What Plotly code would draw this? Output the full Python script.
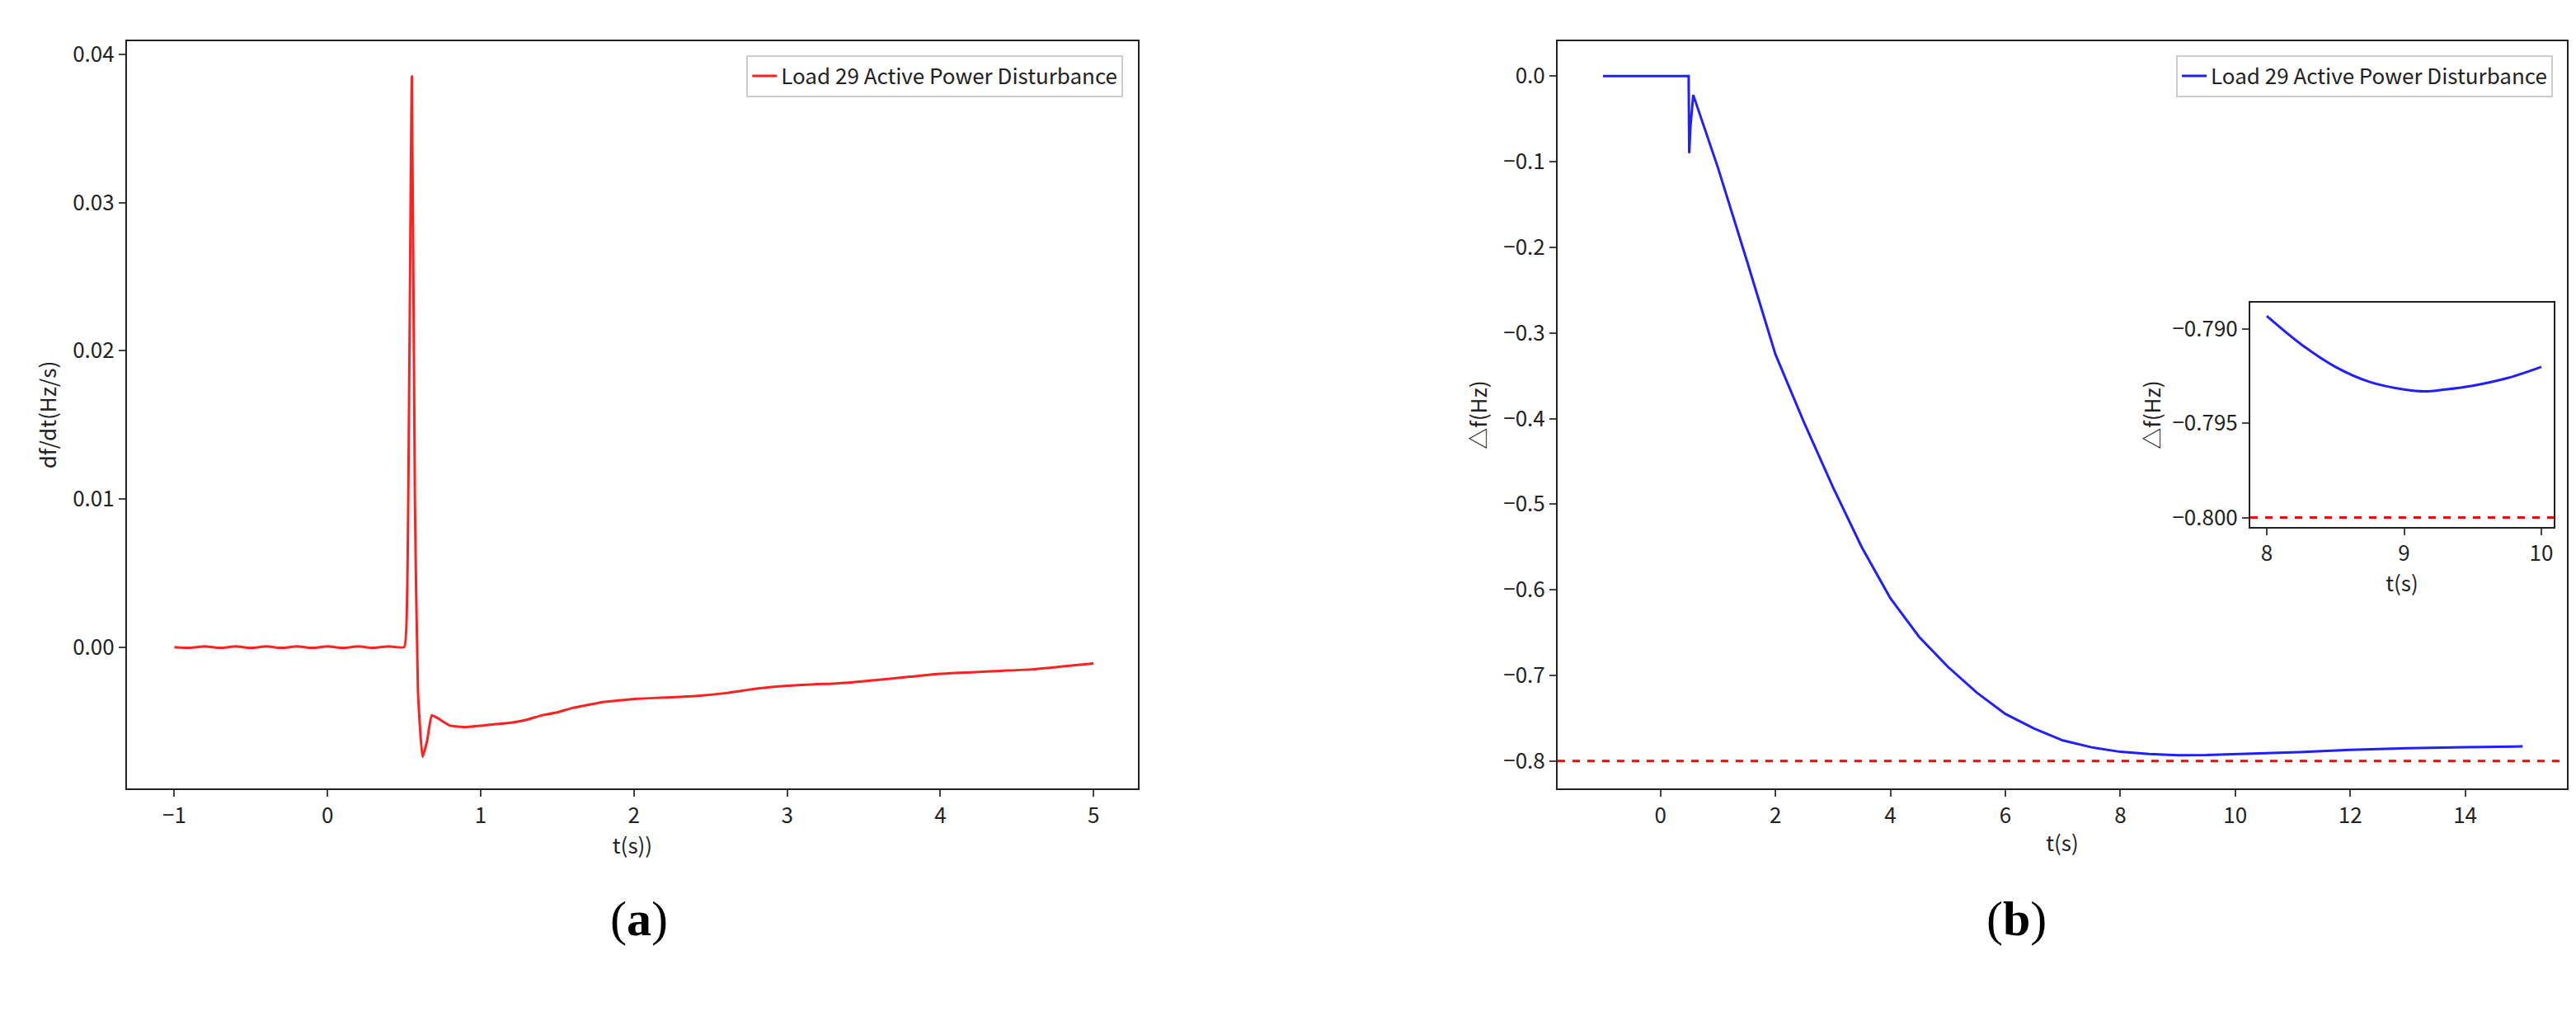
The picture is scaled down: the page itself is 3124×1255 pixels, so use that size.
import plotly.graph_objects as go

# Left panel: df/dt
t_a = [-1.0,-0.9,-0.8,-0.7,-0.6,-0.5,-0.4,-0.3,-0.2,-0.1,0.0,0.1,0.2,0.3,0.4,0.5,0.52,0.55,0.57,0.59,0.62,0.65,0.68,0.72,0.8,0.9,1.0,1.1,1.2,1.3,1.4,1.5,1.6,1.7,1.8,1.9,2.0,2.2,2.4,2.6,2.8,3.0,3.2,3.4,3.6,3.8,4.0,4.2,4.4,4.6,4.8,5.0]
v_a = [0.0,-0.00005,0.00005,-0.00005,0.00005,-0.00005,0.00005,-0.00005,0.00005,-0.00005,0.00005,-0.00005,0.00005,-0.00005,0.00005,0.0,0.004,0.0385,0.010,-0.003,-0.0074,-0.0063,-0.0046,-0.0048,-0.0053,-0.0054,-0.0053,-0.0052,-0.0051,-0.0049,-0.0046,-0.0044,-0.0041,-0.0039,-0.0037,-0.0036,-0.0035,-0.0034,-0.0033,-0.0031,-0.0028,-0.0026,-0.0025,-0.0024,-0.0022,-0.0020,-0.0018,-0.0017,-0.0016,-0.0015,-0.0013,-0.0011]

# Right panel: delta f
t_b = [-1.0,0.0,0.49,0.50,0.52,0.57,1.0,1.5,2.0,2.5,3.0,3.5,4.0,4.5,5.0,5.5,6.0,6.5,7.0,7.5,8.0,8.5,9.0,9.5,10.0,11.0,12.0,13.0,14.0,15.0]
v_b = [0.0,0.0,0.0,-0.09,-0.06,-0.022,-0.107,-0.215,-0.325,-0.405,-0.48,-0.55,-0.61,-0.655,-0.69,-0.72,-0.745,-0.762,-0.776,-0.784,-0.7893,-0.7918,-0.7932,-0.7930,-0.7920,-0.790,-0.787,-0.785,-0.784,-0.783]

# Inset
t_c = [8.0,8.25,8.5,8.75,9.0,9.15,9.3,9.5,9.75,10.0]
v_c = [-0.7893,-0.7908,-0.7920,-0.7928,-0.7932,-0.7933,-0.7932,-0.7930,-0.7926,-0.7920]

ref_level = -0.8
font = "Noto Sans CJK SC"
fig = go.Figure()
fig.add_trace(go.Scatter(x=t_a, y=v_a, mode="lines", line=dict(color="#ff2020", width=3, shape="spline", smoothing=0.4),
                         name="Load 29 Active Power Disturbance", xaxis="x", yaxis="y", legend="legend"))
fig.add_trace(go.Scatter(x=t_b, y=v_b, mode="lines", line=dict(color="#1f1fff", width=3),
                         name="Load 29 Active Power Disturbance", xaxis="x2", yaxis="y2", legend="legend2"))
fig.add_trace(go.Scatter(x=[-1.79, 15.77], y=[ref_level, ref_level], mode="lines",
                         line=dict(color="red", width=3, dash="dash"), showlegend=False, xaxis="x2", yaxis="y2"))
fig.add_trace(go.Scatter(x=t_c, y=v_c, mode="lines", line=dict(color="#1f1fff", width=3, shape="spline"),
                         showlegend=False, xaxis="x3", yaxis="y3"))
fig.add_trace(go.Scatter(x=[7.88, 10.09], y=[ref_level, ref_level], mode="lines",
                         line=dict(color="red", width=3, dash="dash"), showlegend=False, xaxis="x3", yaxis="y3"))

ax = dict(showline=True, mirror=True, linecolor="#222", linewidth=2, ticks="outside", ticklen=8,
          tickwidth=2, showgrid=False, zeroline=False, tickfont=dict(size=26, family=font, color="#222"))
fig.update_layout(
    width=3124, height=1255, margin=dict(l=0, r=0, t=0, b=0), plot_bgcolor="white", paper_bgcolor="white",
    font=dict(family=font, color="#222"),
    xaxis=dict(ax, domain=[0.0467, 0.4392], range=[-1.31, 5.29], tickvals=[-1,0,1,2,3,4,5],
               title=dict(text="t(s))", font=dict(size=26), standoff=10), anchor="y"),
    yaxis=dict(ax, domain=[0.2422, 0.9705], range=[-0.00956, 0.0409], tickvals=[0,0.01,0.02,0.03,0.04],
               tickformat=".2f", title=dict(text="df/dt(Hz/s)", font=dict(size=26), standoff=12), anchor="x"),
    xaxis2=dict(ax, domain=[0.6021, 0.9939], range=[-1.79, 15.77], tickvals=[0,2,4,6,8,10,12,14],
                title=dict(text="t(s)", font=dict(size=26), standoff=10), anchor="y2"),
    yaxis2=dict(ax, domain=[0.2422, 0.9705], range=[-0.8325, 0.041], tickvals=[0,-0.1,-0.2,-0.3,-0.4,-0.5,-0.6,-0.7,-0.8],
                tickformat=".1f", title=dict(text="△f(Hz)", font=dict(size=26), standoff=12), anchor="x2"),
    xaxis3=dict(ax, domain=[0.871, 0.9888], range=[7.88, 10.09], tickvals=[8,9,10],
                title=dict(text="t(s)", font=dict(size=26), standoff=6), anchor="y3"),
    yaxis3=dict(ax, domain=[0.4972, 0.7155], range=[-0.8005, -0.7886], tickvals=[-0.79,-0.795,-0.8],
                tickformat=".3f", title=dict(text="△f(Hz)", font=dict(size=26), standoff=6), anchor="x3"),
    legend=dict(x=0.4335, xanchor="right", y=0.957, yanchor="top", bordercolor="#ccc", borderwidth=2,
                bgcolor="white", font=dict(size=26, family=font)),
    legend2=dict(x=0.9885, xanchor="right", y=0.957, yanchor="top", bordercolor="#ccc", borderwidth=2,
                 bgcolor="white", font=dict(size=26, family=font)),
    annotations=[
        dict(text="(<b>a</b>)", x=0.2337, y=1 - 1145/1255, xref="paper", yref="paper", showarrow=False,
             font=dict(size=60, family="Liberation Serif", color="black")),
        dict(text="(<b>b</b>)", x=0.7925, y=1 - 1145/1255, xref="paper", yref="paper", showarrow=False,
             font=dict(size=60, family="Liberation Serif", color="black")),
    ],
)
fig.write_html("out.html")
